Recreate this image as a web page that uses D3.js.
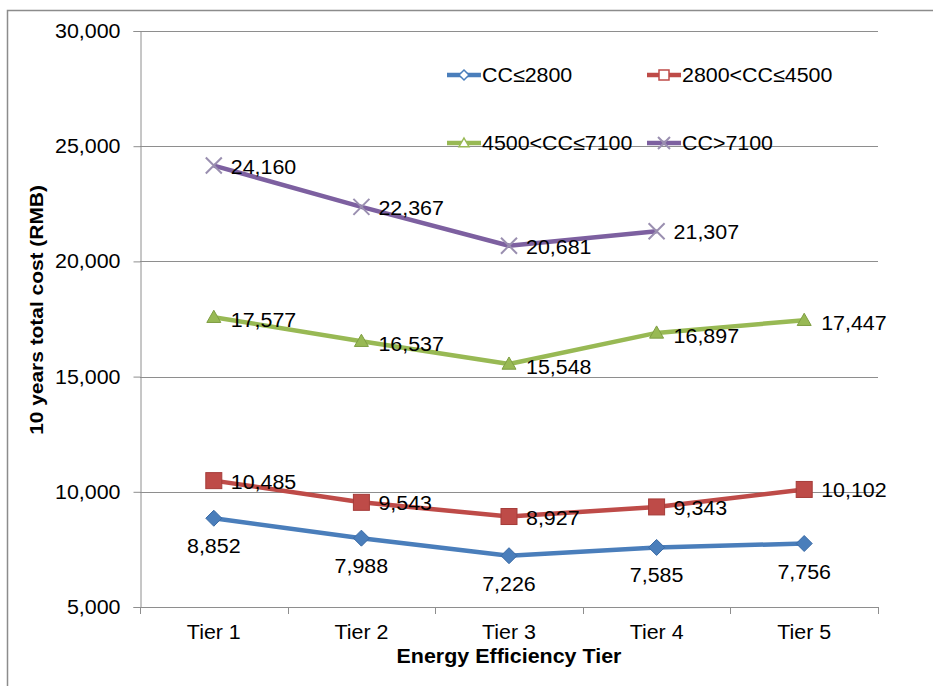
<!DOCTYPE html>
<html><head><meta charset="utf-8">
<script src="https://cdn.jsdelivr.net/npm/d3@7"></script>
<style>body{margin:0;background:#fff}svg{display:block}text{font-family:"Liberation Sans",Arial,sans-serif}</style>
</head><body>
<svg id="c" width="933" height="686"></svg>
<script>
const tiers = ["Tier 1","Tier 2","Tier 3","Tier 4","Tier 5"];
const seriesNames = ["CC≤2800","2800<CC≤4500","4500<CC≤7100","CC>7100"];
const ccLow = [8852,7988,7226,7585,7756];
const ccMid = [10485,9543,8927,9343,10102];
const ccHigh = [17577,16537,15548,16897,17447];
const ccTop = [24160,22367,20681,21307,null];
const yTicks = [5000,10000,15000,20000,25000,30000];
const colors = ["#4a7ebb","#be4b48","#98b954","#7d60a0"];

const svg = d3.select("#c");
// outer frame
svg.append("path").attr("d","M7.5,686 L7.5,10.5 L933,10.5").attr("fill","none").attr("stroke","#8c8c8c").attr("stroke-width",1.5);

const x = d3.scaleBand().domain(tiers).range([140,878]).padding(0);
const y = d3.scaleLinear().domain([5000,30000]).range([607,31]);

// gridlines
svg.append("g").selectAll("line").data(yTicks.slice(1)).join("line")
  .attr("x1",140).attr("x2",878).attr("y1",d=>Math.round(y(d))+0.5).attr("y2",d=>Math.round(y(d))+0.5)
  .attr("stroke","#8e8e8e").attr("stroke-width",1);

// y axis
const yAxis = svg.append("g").attr("transform","translate(140.5,0)")
  .call(d3.axisLeft(y).tickValues(yTicks).tickFormat(d3.format(",")).tickSize(7).tickPadding(13));
yAxis.selectAll("path,line").attr("stroke","#8e8e8e");
yAxis.selectAll("text").attr("font-size",20).attr("fill","#000").attr("font-family","Liberation Sans, Arial, sans-serif").classed("st",true);

// x axis
const xAxis = svg.append("g").attr("transform","translate(0,607.5)")
  .call(d3.axisBottom(x).tickSize(0).tickPadding(17));
xAxis.select("path").attr("stroke","#8e8e8e").attr("d","M140,0H878");
xAxis.selectAll("text").attr("font-size",20).attr("fill","#000").attr("font-family","Liberation Sans, Arial, sans-serif").classed("st",true);
const bounds = tiers.map(t=>x(t)).concat([x.range()[1]]);
svg.append("g").selectAll("line").data(bounds).join("line")
  .attr("x1",d=>Math.round(d)+0.5).attr("x2",d=>Math.round(d)+0.5).attr("y1",607).attr("y2",614)
  .attr("stroke","#8e8e8e");

// axis titles
svg.append("text").attr("x",509).attr("y",663).attr("text-anchor","middle")
  .attr("font-size",19.5).attr("font-weight","bold").attr("class","tt").text("Energy Efficiency Tier");
svg.append("text").attr("transform","translate(43,310) rotate(-90)").attr("text-anchor","middle")
  .attr("font-size",19).attr("font-weight","bold").attr("class","tt").text("10 years total cost (RMB)");

const cx = t => x(t) + x.bandwidth()/2;
const data = [ccLow, ccMid, ccHigh, ccTop];

// markers
function marker(g, i, size, hollow){
  const c = colors[i];
  if(i===0){
    g.append("path").attr("d",`M0,${-size}L${size},0L0,${size}L${-size},0Z`)
      .attr("fill",hollow?"#fff":c).attr("stroke",hollow?c:"#3a6aa5").attr("stroke-width",hollow?1.5:1);
  } else if(i===1){
    g.append("rect").attr("x",-size).attr("y",-size).attr("width",2*size).attr("height",2*size)
      .attr("fill",hollow?"#fff":c).attr("stroke",hollow?c:"#a53c39").attr("stroke-width",hollow?1.5:1);
  } else if(i===2){
    g.append("path").attr("d",`M0,${-size}L${size},${size*0.75}L${-size},${size*0.75}Z`)
      .attr("fill",hollow?"#fff":c).attr("stroke",hollow?c:"#7f9e43").attr("stroke-width",hollow?1.5:1);
  } else {
    g.append("path").attr("d",`M${-size},${-size}L${size},${size}M${-size},${size}L${size},${-size}`)
      .attr("stroke","#9a8fb0").attr("stroke-width",2).attr("fill","none");
  }
}

const line = d3.line().defined(d=>d.v!=null).x(d=>cx(d.t)).y(d=>y(d.v));
data.forEach((arr,i)=>{
  const pts = arr.map((v,j)=>({t:tiers[j],v}));
  svg.append("path").datum(pts).attr("d",line).attr("fill","none")
    .attr("stroke",colors[i]).attr("stroke-width",4.5).attr("stroke-linejoin","round");
});
const msizes=[8,8,7,8];
data.forEach((arr,i)=>{
  arr.forEach((v,j)=>{
    if(v==null) return;
    const g = svg.append("g").attr("transform",`translate(${cx(tiers[j])},${y(v)})`);
    marker(g,i,msizes[i],false);
  });
});
// data labels
const fmt = d3.format(",");
data.forEach((arr,i)=>{
  arr.forEach((v,j)=>{
    if(v==null) return;
    const px = cx(tiers[j]), py = y(v);
    const t = svg.append("text").attr("font-size",20).attr("fill","#000").attr("class","st").text(fmt(v));
    if(i===0){
      t.attr("x",px).attr("y",py+35).attr("text-anchor","middle");
    } else {
      t.attr("x",px+17).attr("y",py+(i===2?10:8)).attr("text-anchor","start");
    }
  });
});

// legend
const legPos = [[447,75],[647,75],[447,143],[647,143]];
seriesNames.forEach((n,i)=>{
  const [lx,ly] = legPos[i];
  svg.append("line").attr("x1",lx).attr("x2",lx+34).attr("y1",ly).attr("y2",ly)
    .attr("stroke",colors[i]).attr("stroke-width",4.5);
  const g = svg.append("g").attr("transform",`translate(${lx+17},${ly})`);
  marker(g,i,i===3?6:5,true);
  svg.append("text").attr("x",lx+35).attr("y",ly+7).attr("font-size",20).attr("fill","#000").attr("class","st").text(n);
});

// slight horizontal stretch to match reference glyph widths
svg.selectAll("text.st").each(function(){
  const w = this.getComputedTextLength();
  d3.select(this).attr("textLength",w*1.07).attr("lengthAdjust","spacingAndGlyphs");
});
svg.selectAll("text.tt").each(function(){
  const w = this.getComputedTextLength();
  d3.select(this).attr("textLength",w*1.1).attr("lengthAdjust","spacingAndGlyphs");
});
</script>
</body></html>
